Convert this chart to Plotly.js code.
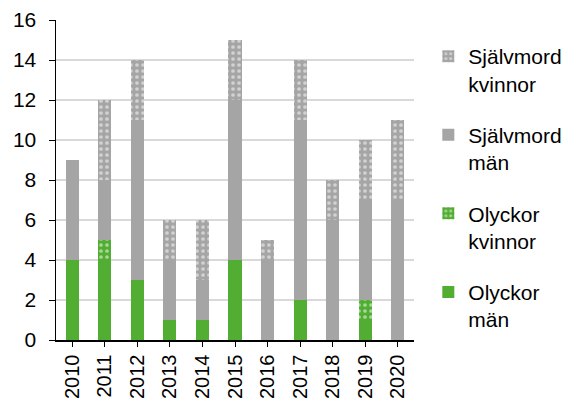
<!DOCTYPE html>
<html>
<head>
<meta charset="utf-8">
<script src="https://cdn.plot.ly/plotly-3.0.1.min.js"></script>
<style>
  html, body { margin: 0; padding: 0; background: #fff; }
  #chart { width: 568px; height: 408px; }
</style>
</head>
<body>
<div id="chart"></div>
<script>
const years = ['2010', '2011', '2012', '2013', '2014', '2015', '2016', '2017', '2018', '2019', '2020'];
const olyckorMan = [4, 4, 3, 1, 1, 4, 0, 2, 0, 1, 0];
const olyckorKvinnor = [0, 1, 0, 0, 0, 0, 0, 0, 0, 1, 0];
const sjalvmordMan = [5, 3, 8, 3, 2, 8, 4, 9, 6, 5, 7];
const sjalvmordKvinnor = [0, 4, 3, 2, 3, 3, 1, 3, 2, 3, 4];

const green = '#52AE32';
const grey = '#A5A5A5';

function dashed(color) {
  return {
    color: color,
    pattern: { shape: '.', fgcolor: '#ffffff', bgcolor: color, size: 6, solidity: 0.3, fillmode: 'overlay' }
  };
}

const traces = [
  { name: 'Olyckor<br>män', y: olyckorMan, marker: { color: green }, legendgroup: 'a', legendrank: 4 },
  { name: 'Olyckor<br>kvinnor', y: olyckorKvinnor, marker: dashed(green), legendgroup: 'b', legendrank: 3 },
  { name: 'Självmord<br>män', y: sjalvmordMan, marker: { color: grey }, legendgroup: 'c', legendrank: 2 },
  { name: 'Självmord<br>kvinnor', y: sjalvmordKvinnor, marker: dashed(grey), legendgroup: 'd', legendrank: 1 }
].map(t => Object.assign({ type: 'bar', x: years, hoverinfo: 'y+name' }, t));

const layout = {
  width: 568,
  height: 408,
  margin: { l: 56, r: 154, t: 20, b: 68, autoexpand: false },
  barmode: 'stack',
  bargap: 0.6,
  paper_bgcolor: '#fff',
  plot_bgcolor: '#fff',
  font: { family: 'Liberation Sans, Arial, sans-serif', size: 21, color: '#000' },
  xaxis: {
    type: 'category',
    tickangle: -90,
    tickfont: { size: 20 },
    showline: true,
    linecolor: '#000',
    linewidth: 1.5,
    ticks: 'outside',
    ticklen: 5,
    tickcolor: '#000',
    showgrid: false
  },
  yaxis: {
    range: [0, 16],
    dtick: 2,
    showline: true,
    linecolor: '#000',
    linewidth: 1.5,
    ticks: 'outside',
    ticklen: 6,
    tickcolor: '#000',
    ticklabelstandoff: 8,
    gridcolor: '#D9D9D9',
    gridwidth: 1.5,
    zeroline: false
  },
  legend: {
    x: 1.04,
    y: 0.95,
    yanchor: 'top',
    traceorder: 'grouped',
    tracegroupgap: 21,
    valign: 'top',
    itemwidth: 30,
    font: { size: 21 }
  },
  showlegend: true
};

Plotly.newPlot('chart', traces, layout, { displayModeBar: false, staticPlot: true });
</script>
</body>
</html>
